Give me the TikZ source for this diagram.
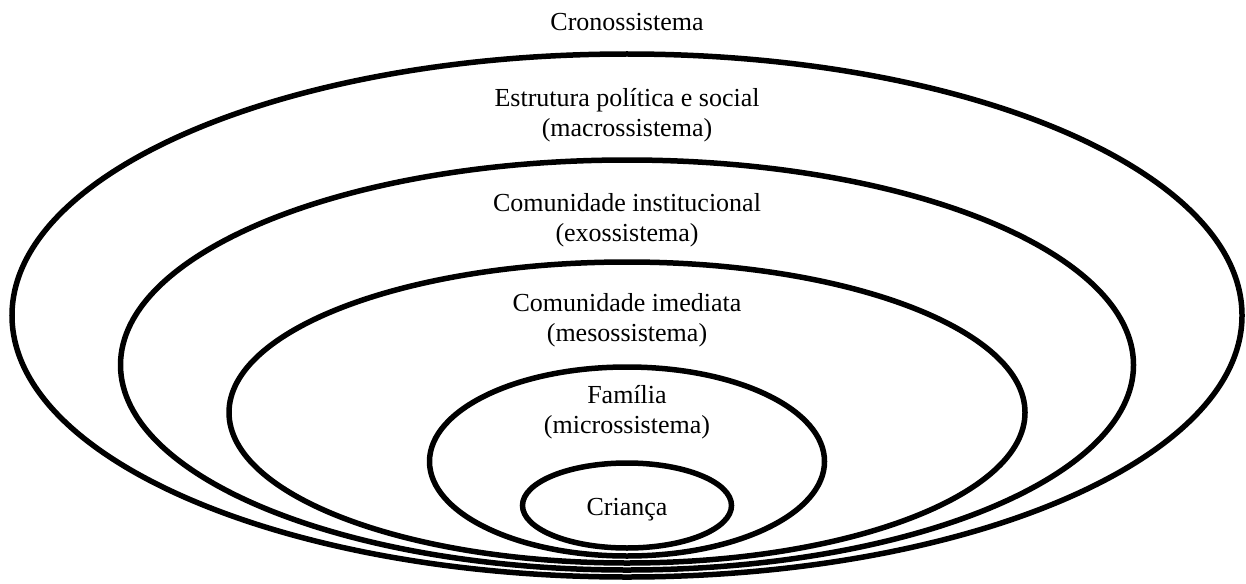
\documentclass[tikz,border=0pt]{standalone}
\usepackage{fontspec}
\setmainfont{Liberation Serif}
\begin{document}
\begin{tikzpicture}[x=1pt,y=-1pt,
  ring/.style={draw=black,line width=5.5pt},
  lbl/.style={anchor=base,inner sep=0pt,align=center,
    font=\fontsize{26}{29.5}\selectfont}]
\useasboundingbox (0,0) rectangle (1246,583);

% nested systems, outermost first
\draw[ring] (627,315.5) ellipse [x radius=615pt,   y radius=261.5pt];
\draw[ring] (627,365)   ellipse [x radius=506.5pt, y radius=205pt];
\draw[ring] (627,412.5) ellipse [x radius=398pt,   y radius=150.5pt];
\draw[ring] (627,461.5) ellipse [x radius=197.5pt, y radius=94.5pt];
\draw[ring] (627,505.5) ellipse [x radius=104.5pt, y radius=42.5pt];

% labels (base anchor sits on the last line of each label)
\node[lbl] (crono) at (627,31)  {Cronossistema};
\node[lbl] (macro) at (627,136) {Estrutura política e social\\(macrossistema)};
\node[lbl] (exo)   at (627,241) {Comunidade institucional\\(exossistema)};
\node[lbl] (meso)  at (627,341) {Comunidade imediata\\(mesossistema)};
\node[lbl] (micro) at (627,433) {Família\\(microssistema)};
\node[lbl] (child) at (627,515) {Criança};
\end{tikzpicture}
\end{document}
